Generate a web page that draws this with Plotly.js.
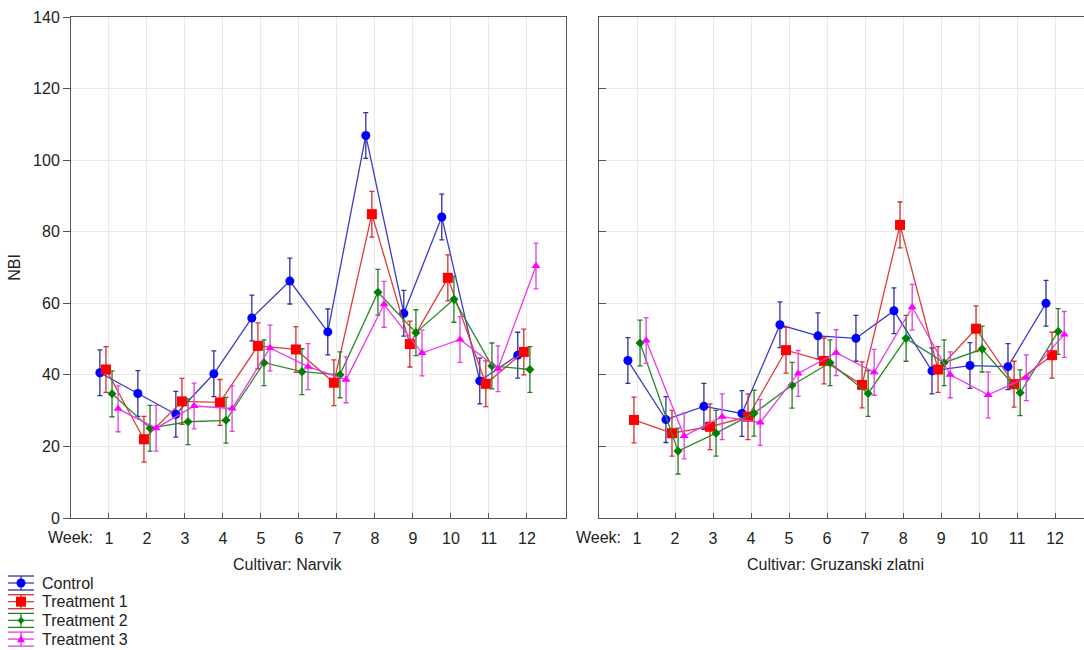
<!DOCTYPE html>
<html>
<head>
<meta charset="utf-8">
<script src="https://cdn.plot.ly/plotly-3.0.1.min.js"></script>
<style>html,body{margin:0;padding:0;background:#fff;}#chart{width:1084px;height:650px;}</style>
</head>
<body>
<div id="chart"></div>
<script>
// ---- data ----
var weeks = [1, 2, 3, 4, 5, 6, 7, 8, 9, 10, 11, 12];
var weekLabels = ['1', '2', '3', '4', '5', '6', '7', '8', '9', '10', '11', '12'];
var seriesNames = ['Control', 'Treatment 1', 'Treatment 2', 'Treatment 3'];
var cultivars = ['Cultivar: Narvik', 'Cultivar: Gruzanski zlatni'];

var narvikControl = [40.6, 34.8, 29.0, 40.3, 55.9, 66.2, 52.0, 106.9, 57.2, 84.1, 38.3, 45.5];
var narvikT1      = [41.5, 22.0, 32.6, 32.3, 48.1, 47.1, 37.8, 84.9, 48.6, 67.1, 37.5, 46.4];
var narvikT2      = [34.7, 25.1, 26.9, 27.3, 43.4, 40.9, 40.0, 63.1, 51.8, 61.1, 42.5, 41.5];
var narvikT3      = [30.5, 25.1, 31.3, 30.6, 47.5, 42.3, 38.6, 59.7, 46.1, 49.9, 41.7, 70.4];

var gruzControl = [44.0, 27.5, 31.2, 29.2, 54.0, 50.9, 50.2, 57.9, 41.1, 42.6, 42.3, 60.0];
var gruzT1      = [27.4, 23.7, 25.5, 28.3, 46.9, 43.9, 37.2, 81.9, 41.5, 52.9, 37.4, 45.5];
var gruzT2      = [48.9, 18.7, 23.7, 29.3, 37.1, 43.4, 34.8, 50.2, 43.4, 47.2, 35.0, 52.1];
var gruzT3      = [49.6, 22.9, 28.3, 26.7, 40.4, 46.2, 40.7, 58.9, 40.0, 34.4, 39.2, 51.3];

var narvikErr = [6.4, 6.4, 6.4, 6.4, 6.4, 6.4, 6.4, 6.4, 6.4, 6.4, 6.4, 6.4];
var gruzErr   = [6.4, 6.4, 6.4, 6.4, 6.4, 6.4, 6.4, 6.4, 6.4, 6.4, 6.4, 6.4];

// ---- styles ----
var offsets = [-0.24, -0.08, 0.08, 0.24];
var markerColors = ['#0000ff', '#ff0000', '#008000', '#ff00ff'];
var lineColors = ['#3a3ac8', '#e23a3a', '#2a8a2a', '#e83ae8'];
var errColors = ['#3030a0', '#d03030', '#2a7a2a', '#e040e0'];
var symbols = ['circle', 'square', 'diamond', 'triangle-up'];
var sizes = [9, 10, 7, 8];

var narvik = [narvikControl, narvikT1, narvikT2, narvikT3];
var gruz = [gruzControl, gruzT1, gruzT2, gruzT3];

var traces = [];
function addPanel(vals, err, xa, ya) {
  for (var i = 0; i < 4; i++) {
    traces.push({
      type: 'scatter', mode: 'lines+markers',
      name: seriesNames[i], showlegend: false,
      x: weeks.map(function (w) { return w + offsets[i]; }),
      y: vals[i],
      xaxis: xa, yaxis: ya,
      line: {color: lineColors[i], width: 1.3},
      marker: {color: markerColors[i], symbol: symbols[i], size: sizes[i], line: {width: 0}},
      error_y: {type: 'data', array: err, visible: true, color: errColors[i], thickness: 1.3, width: 2.5},
      cliponaxis: false
    });
  }
}
addPanel(narvik, narvikErr, 'x', 'y');
addPanel(gruz, gruzErr, 'x2', 'y2');

var font = {family: 'Liberation Sans, Arial, sans-serif', size: 16, color: '#222'};
var axColor = '#555';
var gridColor = '#e8e8e8';

var W = 1084, H = 650, L = 71, R = 0, T = 17, B = 132;
var pw = W - L - R, ph = H - T - B;
function px2x(p) { return (p - L) / pw; }
function px2y(p) { return (H - B - p) / ph; }

// ---- hand-drawn legend (glyph: line with whisker caps and marker) ----
var shapes = [];
var annotations = [
  {text: 'Week:', xref: 'paper', yref: 'paper', x: px2x(95), y: px2y(537), xanchor: 'right', yanchor: 'middle', showarrow: false, font: font},
  {text: 'Week:', xref: 'paper', yref: 'paper', x: px2x(623), y: px2y(537), xanchor: 'right', yanchor: 'middle', showarrow: false, font: font},
  {text: cultivars[0], xref: 'paper', yref: 'paper', x: px2x(287), y: px2y(564), xanchor: 'center', yanchor: 'middle', showarrow: false, font: font},
  {text: cultivars[1], xref: 'paper', yref: 'paper', x: px2x(835), y: px2y(564), xanchor: 'center', yanchor: 'middle', showarrow: false, font: font}
];
var legTop = 583, legStep = 18.7, gx0 = 8, gx1 = 34, gxc = 21, cap = 7;
function pline(x0, y0, x1, y1, color) {
  shapes.push({type: 'line', xref: 'paper', yref: 'paper', x0: px2x(x0), y0: px2y(y0), x1: px2x(x1), y1: px2y(y1),
               line: {color: color, width: 1.3}});
}
for (var i = 0; i < 4; i++) {
  var cy = legTop + i * legStep;
  pline(gx0, cy - cap, gx1, cy - cap, errColors[i]);
  pline(gx0, cy + cap, gx1, cy + cap, errColors[i]);
  pline(gx0, cy, gx1, cy, lineColors[i]);
  pline(gxc, cy - cap, gxc, cy + cap, errColors[i]);
  var r = sizes[i] / 2, path;
  if (symbols[i] === 'circle') {
    shapes.push({type: 'circle', xref: 'paper', yref: 'paper', x0: px2x(gxc - r), x1: px2x(gxc + r), y0: px2y(cy + r), y1: px2y(cy - r),
                 fillcolor: markerColors[i], line: {width: 0}});
  } else if (symbols[i] === 'square') {
    shapes.push({type: 'rect', xref: 'paper', yref: 'paper', x0: px2x(gxc - r), x1: px2x(gxc + r), y0: px2y(cy + r), y1: px2y(cy - r),
                 fillcolor: markerColors[i], line: {width: 0}});
  } else {
    if (symbols[i] === 'diamond') {
      path = 'M' + px2x(gxc - r) + ',' + px2y(cy) + ' L' + px2x(gxc) + ',' + px2y(cy - r) + ' L' + px2x(gxc + r) + ',' + px2y(cy) + ' L' + px2x(gxc) + ',' + px2y(cy + r) + ' Z';
    } else {
      path = 'M' + px2x(gxc - r) + ',' + px2y(cy + r * 0.8) + ' L' + px2x(gxc) + ',' + px2y(cy - r) + ' L' + px2x(gxc + r) + ',' + px2y(cy + r * 0.8) + ' Z';
    }
    shapes.push({type: 'path', xref: 'paper', yref: 'paper', path: path, fillcolor: markerColors[i], line: {width: 0}});
  }
  annotations.push({text: seriesNames[i], xref: 'paper', yref: 'paper', x: px2x(40), y: px2y(cy), xanchor: 'left', yanchor: 'middle',
                    showarrow: false, font: font});
}

var layout = {
  width: W, height: H,
  margin: {l: L, r: R, t: T, b: B, autoexpand: false},
  paper_bgcolor: '#fff', plot_bgcolor: '#fff',
  font: font,
  showlegend: false,
  xaxis: {domain: [0, px2x(566)], range: [0, 13.03], tickvals: weeks, ticktext: weekLabels,
          showgrid: true, gridcolor: gridColor, zeroline: false,
          showline: true, linecolor: axColor, linewidth: 1, mirror: true,
          ticks: 'inside', ticklen: 5, tickcolor: axColor, ticklabelstandoff: 6, tickfont: font},
  yaxis: {domain: [0, 1], range: [0, 140], tickvals: [0, 20, 40, 60, 80, 100, 120, 140],
          showgrid: true, gridcolor: gridColor, zeroline: false,
          showline: true, linecolor: axColor, linewidth: 1, mirror: true,
          ticks: 'outside', ticklen: 7, tickcolor: axColor, tickfont: font,
          title: {text: 'NBI', font: font, standoff: 8}},
  xaxis2: {domain: [px2x(599), 1], range: [0, 12.76], anchor: 'y2', tickvals: weeks, ticktext: weekLabels,
          showgrid: true, gridcolor: gridColor, zeroline: false,
          showline: true, linecolor: axColor, linewidth: 1, mirror: true,
          ticks: 'inside', ticklen: 5, tickcolor: axColor, ticklabelstandoff: 6, tickfont: font},
  yaxis2: {domain: [0, 1], range: [0, 140], anchor: 'x2', tickvals: [0, 20, 40, 60, 80, 100, 120, 140],
          showticklabels: false,
          showgrid: true, gridcolor: gridColor, zeroline: false,
          showline: true, linecolor: axColor, linewidth: 1, mirror: false,
          ticks: 'inside', ticklen: 7, tickcolor: axColor},
  shapes: shapes,
  annotations: annotations
};

Plotly.newPlot('chart', traces, layout, {displayModeBar: false, staticPlot: true});
</script>
</body>
</html>
